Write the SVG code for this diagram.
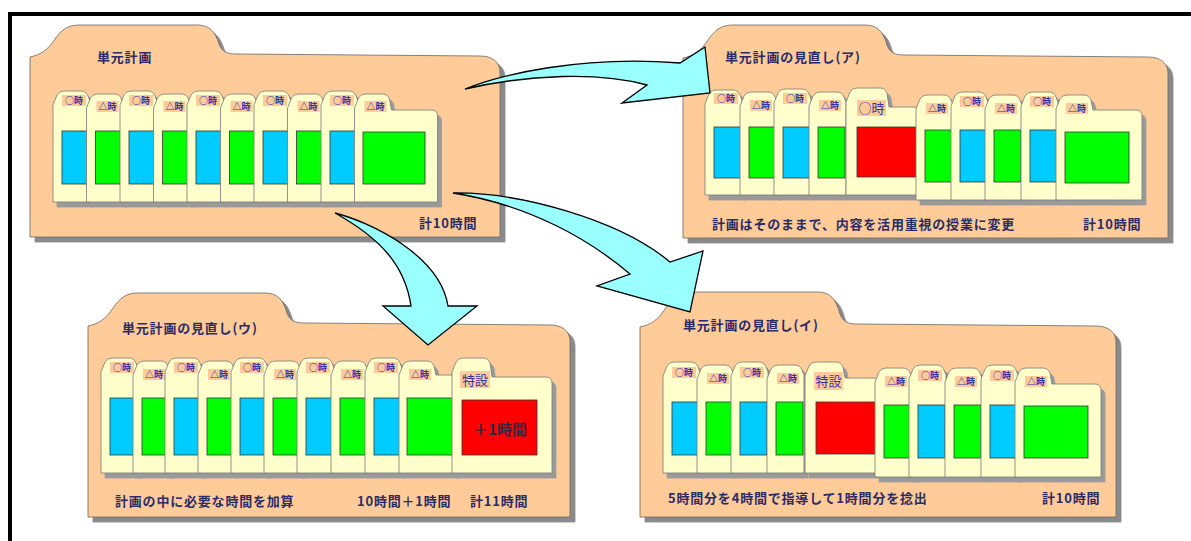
<svg xmlns="http://www.w3.org/2000/svg" width="1191" height="541" viewBox="0 0 1191 541">
<defs>
<filter id="ds5" x="-10%" y="-10%" width="130%" height="130%"><feFlood flood-color="#8a8a8a"/><feComposite in2="SourceAlpha" operator="in"/><feOffset dx="5" dy="5"/><feMerge><feMergeNode/><feMergeNode in="SourceGraphic"/></feMerge></filter>
<filter id="ds4" x="-20%" y="-10%" width="160%" height="130%"><feFlood flood-color="#9a9a9a"/><feComposite in2="SourceAlpha" operator="in"/><feOffset dx="4" dy="5"/><feMerge><feMergeNode/><feMergeNode in="SourceGraphic"/></feMerge></filter>
</defs>
<style>
.fold{fill:#FFCC99;stroke:#666;stroke-width:0.8;filter:url(#ds5)}
.card{fill:#FFFFCC;stroke:#777;stroke-width:0.8;filter:url(#ds4)}
.lb{fill:#FFCC99}
.bl{fill:#00CCFF;stroke:#333;stroke-width:0.8}
.gr{fill:#00FF00;stroke:#333;stroke-width:0.8}
.rd{fill:#FF0000;stroke:#333;stroke-width:0.8}
.t{font-family:"Noto Sans CJK JP","Noto Sans CJK SC",sans-serif;font-weight:bold;font-size:13px;fill:#2B2B66;letter-spacing:0.8px}
.lt{font-family:"Noto Sans CJK JP","Noto Sans CJK SC",sans-serif;font-size:9px;font-weight:bold;fill:#3333AA;text-anchor:middle}
.lt2{font-family:"Noto Sans CJK JP","Noto Sans CJK SC",sans-serif;font-size:13px;fill:#3333AA;text-anchor:middle}
.big{font-family:"Noto Sans CJK JP","Noto Sans CJK SC",sans-serif;font-size:15px;font-weight:bold;fill:#2B2B44;text-anchor:middle}
.arr{fill:#99FFFF;stroke:#000;stroke-width:1.3;stroke-linejoin:miter}
</style>
<rect x="0" y="0" width="1191" height="541" fill="#fff"/>
<g id="frame"><rect x="8" y="12" width="1183" height="4" fill="#000"/><rect x="8" y="12" width="4" height="529" fill="#000"/></g>

<g id="folder-tl">
<path class="fold" d="M30,57 C40,55 48,50 55,39 C62,29 68,25 80,25 L197,25 C209,25 215,31 219,44 C222,52 227,54 237,54 L480,56 C492,56 500,62 500,72 L500,237 L30,237 Z"/>
<text class="t" x="97" y="62">単元計画</text>
<text class="t" x="419" y="228">計10時間</text>
<g><path class="card" d="M53,202 V105 l4,-10 q2,-4 7,-4 h17 q5,0 7,5 l2,5 V202 Z"/><rect class="lb" x="62" y="95" width="24" height="11"/><text class="lt" x="74" y="104">○時</text><rect class="bl" x="62" y="131" width="27" height="53"/></g>
<g><path class="card" d="M86.5,202 V108 l4,-10 q2,-4 7,-4 h17 q5,0 7,5 l2,5 V202 Z"/><rect class="lb" x="96.5" y="101" width="22" height="11"/><text class="lt" x="107.5" y="110">△時</text><rect class="gr" x="95.5" y="131" width="27" height="53"/></g>
<g><path class="card" d="M120,202 V105 l4,-10 q2,-4 7,-4 h17 q5,0 7,5 l2,5 V202 Z"/><rect class="lb" x="129" y="95" width="24" height="11"/><text class="lt" x="141" y="104">○時</text><rect class="bl" x="129" y="131" width="27" height="53"/></g>
<g><path class="card" d="M153.5,202 V108 l4,-10 q2,-4 7,-4 h17 q5,0 7,5 l2,5 V202 Z"/><rect class="lb" x="163.5" y="101" width="22" height="11"/><text class="lt" x="174.5" y="110">△時</text><rect class="gr" x="162.5" y="131" width="27" height="53"/></g>
<g><path class="card" d="M187,202 V105 l4,-10 q2,-4 7,-4 h17 q5,0 7,5 l2,5 V202 Z"/><rect class="lb" x="196" y="95" width="24" height="11"/><text class="lt" x="208" y="104">○時</text><rect class="bl" x="196" y="131" width="27" height="53"/></g>
<g><path class="card" d="M220.5,202 V108 l4,-10 q2,-4 7,-4 h17 q5,0 7,5 l2,5 V202 Z"/><rect class="lb" x="230.5" y="101" width="22" height="11"/><text class="lt" x="241.5" y="110">△時</text><rect class="gr" x="229.5" y="131" width="27" height="53"/></g>
<g><path class="card" d="M254,202 V105 l4,-10 q2,-4 7,-4 h17 q5,0 7,5 l2,5 V202 Z"/><rect class="lb" x="263" y="95" width="24" height="11"/><text class="lt" x="275" y="104">○時</text><rect class="bl" x="263" y="131" width="27" height="53"/></g>
<g><path class="card" d="M287.5,202 V108 l4,-10 q2,-4 7,-4 h17 q5,0 7,5 l2,5 V202 Z"/><rect class="lb" x="297.5" y="101" width="22" height="11"/><text class="lt" x="308.5" y="110">△時</text><rect class="gr" x="296.5" y="131" width="27" height="53"/></g>
<g><path class="card" d="M321,202 V105 l4,-10 q2,-4 7,-4 h17 q5,0 7,5 l2,5 V202 Z"/><rect class="lb" x="330" y="95" width="24" height="11"/><text class="lt" x="342" y="104">○時</text><rect class="bl" x="330" y="131" width="27" height="53"/></g>
<g><path class="card" d="M354.5,202 V108 l4,-10 q2,-4 7,-4 h17 q5,0 7,5 l2,11 H431.5 q6,0 6,6 V202 Z"/><rect class="lb" x="364.5" y="101" width="22" height="11"/><text class="lt" x="375.5" y="110">△時</text><rect class="gr" x="363" y="132" width="62" height="52"/></g>
</g>

<g id="folder-tr">
<path class="fold" d="M683,58 C693,56 701,51 708,40 C715,30 721,25 733,25 L865,25 C877,25 883,31 887,45 C890,53 895,55 905,55 L1148,57 C1160,57 1168,63 1168,73 L1168,238 L683,238 Z"/>
<text class="t" x="725" y="62">単元計画の見直し(ア)</text>
<text class="t" x="712" y="229">計画はそのままで、内容を活用重視の授業に変更</text>
<text class="t" x="1083" y="229">計10時間</text>
<g><path class="card" d="M705,195 V104 l4,-10 q2,-4 7,-4 h17 q5,0 7,5 l2,5 V195 Z"/><rect class="lb" x="714" y="93" width="24" height="11"/><text class="lt" x="726" y="102">○時</text><rect class="bl" x="714" y="127" width="27" height="51"/></g>
<g><path class="card" d="M740,195 V106 l4,-10 q2,-4 7,-4 h17 q5,0 7,5 l2,5 V195 Z"/><rect class="lb" x="750" y="100" width="22" height="11"/><text class="lt" x="761" y="109">△時</text><rect class="gr" x="749" y="127" width="27" height="51"/></g>
<g><path class="card" d="M774,195 V103 l4,-10 q2,-4 7,-4 h17 q5,0 7,5 l2,5 V195 Z"/><rect class="lb" x="783" y="93" width="24" height="11"/><text class="lt" x="795" y="102">○時</text><rect class="bl" x="783" y="127" width="27" height="51"/></g>
<g><path class="card" d="M809,195 V106 l4,-10 q2,-4 7,-4 h17 q5,0 7,5 l2,5 V195 Z"/><rect class="lb" x="819" y="100" width="22" height="11"/><text class="lt" x="830" y="109">△時</text><rect class="gr" x="818" y="127" width="27" height="51"/></g>
<g><path class="card" d="M846,195 V102 l4,-10 q2,-4 7,-4 h23 q5,0 7,5 l2,14 H914 q6,0 6,6 V195 Z"/><rect class="lb" x="857" y="100" width="29" height="16"/><text class="lt2" x="871.5" y="113">○時</text><rect class="rd" x="857" y="127" width="60" height="50"/></g>
<g><path class="card" d="M916,200 V109 l4,-10 q2,-4 7,-4 h17 q5,0 7,5 l2,5 V200 Z"/><rect class="lb" x="926" y="103" width="22" height="11"/><text class="lt" x="937" y="112">△時</text><rect class="gr" x="925" y="130" width="27" height="52"/></g>
<g><path class="card" d="M951,200 V106 l4,-10 q2,-4 7,-4 h17 q5,0 7,5 l2,5 V200 Z"/><rect class="lb" x="960" y="96" width="24" height="11"/><text class="lt" x="972" y="105">○時</text><rect class="bl" x="960" y="130" width="27" height="52"/></g>
<g><path class="card" d="M985,200 V109 l4,-10 q2,-4 7,-4 h17 q5,0 7,5 l2,5 V200 Z"/><rect class="lb" x="995" y="103" width="22" height="11"/><text class="lt" x="1006" y="112">△時</text><rect class="gr" x="994" y="130" width="27" height="52"/></g>
<g><path class="card" d="M1021,200 V106 l4,-10 q2,-4 7,-4 h17 q5,0 7,5 l2,5 V200 Z"/><rect class="lb" x="1030" y="96" width="24" height="11"/><text class="lt" x="1042" y="105">○時</text><rect class="bl" x="1030" y="130" width="27" height="52"/></g>
<g><path class="card" d="M1056,200 V109 l4,-10 q2,-4 7,-4 h17 q5,0 7,5 l2,10 H1136 q6,0 6,6 V200 Z"/><rect class="lb" x="1066" y="103" width="22" height="11"/><text class="lt" x="1077" y="112">△時</text><rect class="gr" x="1065" y="132" width="64" height="51"/></g>
</g>

<g id="folder-bl">
<path class="fold" d="M88,326 C98,324 106,319 113,308 C120,298 126,293 138,293 L265,293 C277,293 283,299 287,313 C290,321 295,323 305,323 L550,325 C562,325 570,331 570,341 L570,517 L88,517 Z"/>
<text class="t" x="122" y="333">単元計画の見直し(ウ)</text>
<text class="t" x="115" y="506">計画の中に必要な時間を加算</text>
<text class="t" x="357" y="506">10時間＋1時間</text>
<text class="t" x="470" y="506">計11時間</text>
<g><path class="card" d="M101,473 V372 l4,-10 q2,-4 7,-4 h17 q5,0 7,5 l2,5 V473 Z"/><rect class="lb" x="110" y="362" width="24" height="11"/><text class="lt" x="122" y="371">○時</text><rect class="bl" x="110" y="398" width="27" height="57"/></g>
<g><path class="card" d="M133,473 V375 l4,-10 q2,-4 7,-4 h17 q5,0 7,5 l2,5 V473 Z"/><rect class="lb" x="143" y="369" width="22" height="11"/><text class="lt" x="154" y="378">△時</text><rect class="gr" x="142" y="398" width="27" height="57"/></g>
<g><path class="card" d="M165,473 V372 l4,-10 q2,-4 7,-4 h17 q5,0 7,5 l2,5 V473 Z"/><rect class="lb" x="174" y="362" width="24" height="11"/><text class="lt" x="186" y="371">○時</text><rect class="bl" x="174" y="398" width="27" height="57"/></g>
<g><path class="card" d="M198,473 V375 l4,-10 q2,-4 7,-4 h17 q5,0 7,5 l2,5 V473 Z"/><rect class="lb" x="208" y="369" width="22" height="11"/><text class="lt" x="219" y="378">△時</text><rect class="gr" x="207" y="398" width="27" height="57"/></g>
<g><path class="card" d="M231,473 V372 l4,-10 q2,-4 7,-4 h17 q5,0 7,5 l2,5 V473 Z"/><rect class="lb" x="240" y="362" width="24" height="11"/><text class="lt" x="252" y="371">○時</text><rect class="bl" x="240" y="398" width="27" height="57"/></g>
<g><path class="card" d="M264,473 V375 l4,-10 q2,-4 7,-4 h17 q5,0 7,5 l2,5 V473 Z"/><rect class="lb" x="274" y="369" width="22" height="11"/><text class="lt" x="285" y="378">△時</text><rect class="gr" x="273" y="398" width="27" height="57"/></g>
<g><path class="card" d="M297,473 V372 l4,-10 q2,-4 7,-4 h17 q5,0 7,5 l2,5 V473 Z"/><rect class="lb" x="306" y="362" width="24" height="11"/><text class="lt" x="318" y="371">○時</text><rect class="bl" x="306" y="398" width="27" height="57"/></g>
<g><path class="card" d="M331,473 V375 l4,-10 q2,-4 7,-4 h17 q5,0 7,5 l2,5 V473 Z"/><rect class="lb" x="341" y="369" width="22" height="11"/><text class="lt" x="352" y="378">△時</text><rect class="gr" x="340" y="398" width="27" height="57"/></g>
<g><path class="card" d="M365,473 V372 l4,-10 q2,-4 7,-4 h17 q5,0 7,5 l2,5 V473 Z"/><rect class="lb" x="374" y="362" width="24" height="11"/><text class="lt" x="386" y="371">○時</text><rect class="bl" x="374" y="398" width="27" height="57"/></g>
<g><path class="card" d="M399,473 V375 l4,-10 q2,-4 7,-4 h17 q5,0 7,5 l2,9 H450 q6,0 6,6 V473 Z"/><rect class="lb" x="409" y="369" width="22" height="11"/><text class="lt" x="420" y="378">△時</text><rect class="gr" x="407" y="398" width="47" height="57"/></g>
<g><path class="card" d="M452,473 V372 l4,-10 q2,-4 7,-4 h20 q5,0 7,5 l2,14 H546 q6,0 6,6 V473 Z"/><rect class="lb" x="460" y="371" width="30" height="17"/><text class="lt2" x="475" y="385">特設</text><rect class="rd" x="462" y="400" width="75" height="55"/><text class="big" x="500" y="435">＋1時間</text></g>
</g>

<g id="folder-br">
<path class="fold" d="M640,327 C650,325 658,320 665,309 C672,299 678,292 690,292 L818,292 C830,292 836,299 840,314 C843,322 848,324 858,324 L1096,326 C1108,326 1116,332 1116,342 L1116,517 L640,517 Z"/>
<text class="t" x="683" y="330">単元計画の見直し(イ)</text>
<text class="t" x="668" y="503">5時間分を4時間で指導して1時間分を捻出</text>
<text class="t" x="1042" y="503">計10時間</text>
<g><path class="card" d="M663,473 V376 l4,-10 q2,-4 7,-4 h17 q5,0 7,5 l2,5 V473 Z"/><rect class="lb" x="672" y="367" width="24" height="11"/><text class="lt" x="684" y="376">○時</text><rect class="bl" x="672" y="402" width="27" height="53"/></g>
<g><path class="card" d="M697,473 V379 l4,-10 q2,-4 7,-4 h17 q5,0 7,5 l2,5 V473 Z"/><rect class="lb" x="707" y="373" width="22" height="11"/><text class="lt" x="718" y="382">△時</text><rect class="gr" x="706" y="402" width="27" height="53"/></g>
<g><path class="card" d="M731,473 V376 l4,-10 q2,-4 7,-4 h17 q5,0 7,5 l2,5 V473 Z"/><rect class="lb" x="740" y="367" width="24" height="11"/><text class="lt" x="752" y="376">○時</text><rect class="bl" x="740" y="402" width="27" height="53"/></g>
<g><path class="card" d="M767,473 V379 l4,-10 q2,-4 7,-4 h17 q5,0 7,5 l2,5 V473 Z"/><rect class="lb" x="777" y="373" width="22" height="11"/><text class="lt" x="788" y="382">△時</text><rect class="gr" x="776" y="402" width="27" height="53"/></g>
<g><path class="card" d="M805,473 V376 l4,-10 q2,-4 7,-4 h20 q5,0 7,5 l2,11 H873 q6,0 6,6 V473 Z"/><rect class="lb" x="814" y="372" width="29" height="18"/><text class="lt2" x="828.5" y="386">特設</text><rect class="rd" x="816" y="402" width="60" height="52"/></g>
<g><path class="card" d="M875,477 V382 l4,-10 q2,-4 7,-4 h17 q5,0 7,5 l2,5 V477 Z"/><rect class="lb" x="885" y="376" width="22" height="11"/><text class="lt" x="896" y="385">△時</text><rect class="gr" x="884" y="405" width="27" height="53"/></g>
<g><path class="card" d="M909,477 V379 l4,-10 q2,-4 7,-4 h17 q5,0 7,5 l2,5 V477 Z"/><rect class="lb" x="918" y="370" width="24" height="11"/><text class="lt" x="930" y="379">○時</text><rect class="bl" x="918" y="405" width="27" height="53"/></g>
<g><path class="card" d="M945,477 V382 l4,-10 q2,-4 7,-4 h17 q5,0 7,5 l2,5 V477 Z"/><rect class="lb" x="955" y="376" width="22" height="11"/><text class="lt" x="966" y="385">△時</text><rect class="gr" x="954" y="405" width="27" height="53"/></g>
<g><path class="card" d="M981,477 V379 l4,-10 q2,-4 7,-4 h17 q5,0 7,5 l2,5 V477 Z"/><rect class="lb" x="990" y="370" width="24" height="11"/><text class="lt" x="1002" y="379">○時</text><rect class="bl" x="990" y="405" width="27" height="53"/></g>
<g><path class="card" d="M1015,477 V382 l4,-10 q2,-4 7,-4 h17 q5,0 7,5 l2,11 H1095 q6,0 6,6 V477 Z"/><rect class="lb" x="1025" y="376" width="22" height="11"/><text class="lt" x="1036" y="385">△時</text><rect class="gr" x="1024" y="406" width="64" height="52"/></g>
</g>

<g id="connectors">
<path class="arr" d="M465,89 C500,75 580,55 680,63 L705,47 L710,93 L622,103 L647,85 C600,72 530,74 465,89 Z"/>
<path class="arr" d="M335,213 C370,222 440,255 448,306 L477,306 L428,345 L383,306 L411,306 C405,265 380,238 335,213 Z"/>
<path class="arr" d="M453,193 C520,192 620,220 670,262 L703,251 L690,312 L597,286 L630,274 C590,240 530,205 453,193 Z"/>
</g>
</svg>
